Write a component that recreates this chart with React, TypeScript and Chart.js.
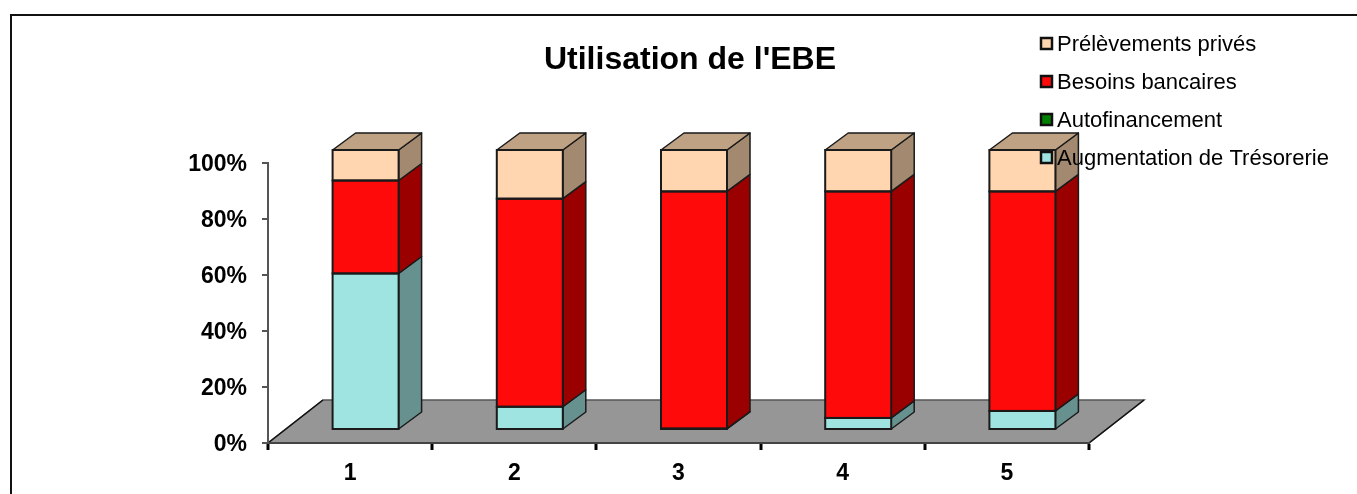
import React, { useEffect, useRef } from "react";
import { Chart, registerables } from "chart.js";

Chart.register(...registerables);

const categories = ["1", "2", "3", "4", "5"];
const titleText = "Utilisation de l'EBE";
const tresorerie = [55.9, 8.3, 0.5, 4.3, 6.8];
const autofinancement = [0, 0, 0, 0, 0];
const besoins = [33.2, 74.3, 84.7, 80.9, 78.4];
const prelevements = [10.9, 17.4, 14.8, 14.8, 14.8];

const FONT = '"Liberation Sans", Arial, sans-serif';
const EDGE = "#1a1a1a";
const FRONT = { dx: 15.5, dy: -13 };
const DEPTH = { dx: 23, dy: -17 };
const FLOOR = { dx: 55, dy: -43 };

const shades: Record<string, { side: string; top: string }> = {
  "Augmentation de Trésorerie": { side: "#67918F", top: "#7FB2B0" },
  Autofinancement: { side: "#004D00", top: "#006600" },
  "Besoins bancaires": { side: "#9B0000", top: "#C00000" },
  "Prélèvements privés": { side: "#A2896F", top: "#BFA183" },
};

const poly = (ctx: CanvasRenderingContext2D, pts: number[][], fill: string, stroke: string, lw: number) => {
  ctx.beginPath();
  pts.forEach((p, i) => (i ? ctx.lineTo(p[0], p[1]) : ctx.moveTo(p[0], p[1])));
  ctx.closePath();
  ctx.fillStyle = fill;
  ctx.fill();
  ctx.strokeStyle = stroke;
  ctx.lineWidth = lw;
  ctx.lineJoin = "round";
  ctx.stroke();
};

const depthPlugin = {
  id: "depth3d",
  beforeDraw(chart: any) {
    const { ctx, chartArea: a } = chart;
    ctx.save();
    ctx.beginPath();
    ctx.moveTo(a.left, a.bottom);
    ctx.lineTo(a.right, a.bottom);
    ctx.lineTo(a.right + FLOOR.dx, a.bottom + FLOOR.dy);
    ctx.lineTo(a.left + FLOOR.dx, a.bottom + FLOOR.dy);
    ctx.closePath();
    ctx.fillStyle = "#969696";
    ctx.fill();
    ctx.strokeStyle = "#555555";
    ctx.lineWidth = 1.5;
    ctx.stroke();
    ctx.beginPath();
    ctx.moveTo(a.right, a.bottom);
    ctx.lineTo(a.right + FLOOR.dx, a.bottom + FLOOR.dy);
    ctx.moveTo(a.left, a.bottom);
    ctx.lineTo(a.left + FLOOR.dx, a.bottom + FLOOR.dy);
    ctx.strokeStyle = "#111111";
    ctx.stroke();
    ctx.restore();
  },
  beforeDatasetsDraw(chart: any) {
    const { ctx, data } = chart;
    ctx.save();
    ctx.translate(FRONT.dx, FRONT.dy);
    data.datasets.forEach((ds: any, i: number) => {
      const shade = shades[ds.label];
      chart.getDatasetMeta(i).data.forEach((bar: any, j: number) => {
        if (!ds.data[j]) return;
        const r = bar.x + bar.width / 2;
        const l = bar.x - bar.width / 2;
        poly(ctx, [[r, bar.base], [r + DEPTH.dx, bar.base + DEPTH.dy], [r + DEPTH.dx, bar.y + DEPTH.dy], [r, bar.y]], shade.side, EDGE, 1.5);
        if (i === data.datasets.length - 1) {
          poly(ctx, [[l, bar.y], [r, bar.y], [r + DEPTH.dx, bar.y + DEPTH.dy], [l + DEPTH.dx, bar.y + DEPTH.dy]], shade.top, EDGE, 1.5);
        }
      });
    });
    ctx.restore();
    ctx.save();
    ctx.translate(FRONT.dx, FRONT.dy);
  },
  afterDatasetsDraw(chart: any) {
    const { ctx, data } = chart;
    data.datasets.forEach((ds: any, i: number) => {
      chart.getDatasetMeta(i).data.forEach((bar: any, j: number) => {
        if (!ds.data[j]) return;
        ctx.strokeStyle = EDGE;
        ctx.lineWidth = 2;
        ctx.strokeRect(bar.x - bar.width / 2, bar.y, bar.width, bar.base - bar.y);
      });
    });
    ctx.restore();
  },
  afterDraw(chart: any) {
    const { ctx, data } = chart;
    ctx.save();
    ctx.textBaseline = "middle";
    ctx.textAlign = "left";
    ctx.font = `22px ${FONT}`;
    [...data.datasets].reverse().forEach((ds: any, i: number) => {
      const y = 44 + i * 38;
      ctx.fillStyle = ds.backgroundColor;
      ctx.strokeStyle = "#111111";
      ctx.lineWidth = 2.5;
      ctx.fillRect(1041, y - 6, 11, 11);
      ctx.strokeRect(1041, y - 6, 11, 11);
      ctx.fillStyle = "#000000";
      ctx.fillText(ds.label, 1057, y + 1);
    });
    ctx.restore();
  },
};

const barStyle = {
  borderWidth: 0,
  clip: false,
  categoryPercentage: 1,
  barPercentage: 0.402,
};

export default function App() {
  const ref = useRef<HTMLCanvasElement>(null);
  useEffect(() => {
    const chart = new Chart(ref.current!, {
      type: "bar",
      data: {
        labels: categories,
        datasets: [
          { label: "Augmentation de Trésorerie", data: tresorerie, backgroundColor: "#A0E4E2", ...barStyle },
          { label: "Autofinancement", data: autofinancement, backgroundColor: "#008000", ...barStyle },
          { label: "Besoins bancaires", data: besoins, backgroundColor: "#FF0A0A", ...barStyle },
          { label: "Prélèvements privés", data: prelevements, backgroundColor: "#FFD6B0", ...barStyle },
        ] as any,
      },
      options: {
        animation: false,
        responsive: false,
        layout: { padding: { left: 23, right: 0, top: 0, bottom: 0 } },
        plugins: {
          legend: { display: false },
          tooltip: { enabled: false },
          title: {
            display: true,
            text: titleText,
            color: "#000000",
            font: { family: FONT, size: 32, weight: "bold", lineHeight: 1.2 },
            padding: { top: 41, bottom: 83.6 },
          },
        },
        scales: {
          x: {
            stacked: true,
            grid: { display: true, drawOnChartArea: false, drawTicks: true, offset: true, tickLength: 7, tickColor: "#000000", tickWidth: 3, color: "#222222", lineWidth: 2 },
            border: { display: true, color: "#444444", width: 2 },
            ticks: { color: "#000000", font: { family: FONT, size: 23, weight: "bold" }, padding: 10, maxRotation: 0 },
            afterFit(s: any) { s.height = 51; },
          },
          y: {
            stacked: true,
            min: 0,
            max: 100,
            grid: { display: true, drawOnChartArea: false, drawTicks: true, tickLength: 6, tickColor: "#555555", tickWidth: 2, color: "#555555", lineWidth: 2 },
            border: { display: true, color: "#555555", width: 2 },
            ticks: { stepSize: 20, color: "#000000", font: { family: FONT, size: 23, weight: "bold" }, padding: 15, labelOffset: 2, callback: (v: any) => `${v}%` },
            afterFit(s: any) { s.width = 245; },
          },
          spacer: {
            type: "linear",
            position: "right",
            display: true,
            grid: { display: false },
            border: { display: false },
            ticks: { display: false },
            afterFit(s: any) { s.width = 268; },
          },
        },
      } as any,
      plugins: [depthPlugin],
    });
    return () => chart.destroy();
  }, []);
  return (
    <div style={{ position: "absolute", left: 0, top: 0, width: 1357, height: 494, overflow: "hidden", background: "#fff" }}>
      <canvas ref={ref} width={1357} height={494} style={{ display: "block" }} />
      <div style={{ position: "absolute", left: 10, top: 14, width: 2, height: 480, background: "#111" }} />
      <div style={{ position: "absolute", left: 10, top: 14, width: 1347, height: 2, background: "#111" }} />
    </div>
  );
}
